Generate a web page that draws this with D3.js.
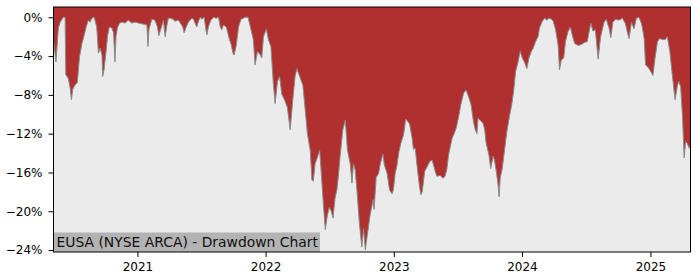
<!DOCTYPE html>
<html>
<head>
<meta charset="utf-8">
<script src="https://cdn.jsdelivr.net/npm/d3@7"></script>
<style>
body { margin: 0; background: #fff; }
svg { display: block; font-family: "DejaVu Sans", sans-serif; }
</style>
</head>
<body>
<div id="chart"></div>
<script>
// drawdown in percent
const dates = [
  "2020-05-07","2020-05-14","2020-05-21","2020-05-26","2020-06-04","2020-06-09","2020-06-11","2020-06-18","2020-06-23","2020-06-27",
  "2020-07-01","2020-07-07","2020-07-14","2020-07-20","2020-07-27","2020-08-02","2020-08-08","2020-08-14","2020-08-19","2020-08-24",
  "2020-08-31","2020-09-07","2020-09-12","2020-09-17","2020-09-22","2020-09-24","2020-09-28","2020-10-04","2020-10-08","2020-10-13",
  "2020-10-20","2020-10-25","2020-10-29","2020-11-01","2020-11-05","2020-11-11","2020-11-18","2020-11-27","2020-12-06","2020-12-16",
  "2020-12-25","2021-01-04","2021-01-17","2021-01-28","2021-01-31","2021-02-03","2021-02-11","2021-02-20","2021-02-27","2021-03-03",
  "2021-03-07","2021-03-12","2021-03-16","2021-03-21","2021-03-26","2021-03-30","2021-04-06","2021-04-12","2021-04-18","2021-04-28",
  "2021-05-10","2021-05-14","2021-05-20","2021-05-26","2021-06-05","2021-06-10","2021-06-14","2021-06-19","2021-06-24","2021-06-29",
  "2021-07-03","2021-07-10","2021-07-16","2021-07-18","2021-07-22","2021-07-29","2021-08-06","2021-08-13","2021-08-20","2021-08-25",
  "2021-08-29","2021-09-03","2021-09-11","2021-09-20","2021-09-25","2021-09-30","2021-10-03","2021-10-09","2021-10-16","2021-10-23",
  "2021-11-04","2021-11-12","2021-11-20","2021-11-27","2021-12-02","2021-12-09","2021-12-17","2021-12-21","2021-12-26","2022-01-03",
  "2022-01-09","2022-01-16","2022-01-23","2022-01-28","2022-02-04","2022-02-10","2022-02-16","2022-02-26","2022-03-04","2022-03-12",
  "2022-03-20","2022-03-26","2022-03-31","2022-04-10","2022-04-17","2022-04-24","2022-04-30","2022-05-08","2022-05-13","2022-05-17",
  "2022-05-22","2022-05-28","2022-06-04","2022-06-08","2022-06-13","2022-06-20","2022-06-25","2022-07-01","2022-07-07","2022-07-12",
  "2022-07-18","2022-07-23","2022-07-28","2022-08-01","2022-08-09","2022-08-16","2022-08-22","2022-08-30","2022-09-04","2022-09-08",
  "2022-09-13","2022-09-18","2022-09-25","2022-10-02","2022-10-07","2022-10-12","2022-10-17","2022-10-21","2022-10-26","2022-10-31",
  "2022-11-03","2022-11-06","2022-11-12","2022-11-19","2022-11-23","2022-12-01","2022-12-05","2022-12-13","2022-12-20","2022-12-27",
  "2022-12-31","2023-01-05","2023-01-10","2023-01-15","2023-01-21","2023-01-29","2023-02-04","2023-02-09","2023-02-15","2023-02-22",
  "2023-02-26","2023-03-03","2023-03-08","2023-03-15","2023-03-19","2023-03-23","2023-03-30","2023-04-06","2023-04-13","2023-04-20",
  "2023-04-24","2023-04-29","2023-05-04","2023-05-13","2023-05-21","2023-05-27","2023-06-01","2023-06-06","2023-06-16","2023-06-22",
  "2023-06-28","2023-07-04","2023-07-11","2023-07-19","2023-07-26","2023-08-02","2023-08-09","2023-08-16","2023-08-21","2023-08-26",
  "2023-08-29","2023-09-06","2023-09-12","2023-09-17","2023-09-21","2023-09-29","2023-10-04","2023-10-11","2023-10-15","2023-10-20",
  "2023-10-25","2023-10-28","2023-10-31","2023-11-06","2023-11-13","2023-11-19","2023-11-27","2023-12-03","2023-12-08","2023-12-14",
  "2023-12-21","2023-12-27","2024-01-02","2024-01-09","2024-01-15","2024-01-21","2024-01-28","2024-02-02","2024-02-09","2024-02-16",
  "2024-02-20","2024-02-28","2024-03-06","2024-03-12","2024-03-18","2024-03-25","2024-03-30","2024-04-06","2024-04-13","2024-04-17",
  "2024-04-22","2024-04-29","2024-05-04","2024-05-11","2024-05-18","2024-05-23","2024-05-30","2024-06-09","2024-06-18","2024-06-27",
  "2024-07-05","2024-07-15","2024-07-21","2024-07-28","2024-08-05","2024-08-12","2024-08-22","2024-08-28","2024-09-05","2024-09-10",
  "2024-09-16","2024-09-24","2024-10-03","2024-10-13","2024-10-21","2024-10-27","2024-11-01","2024-11-08","2024-11-15","2024-11-22",
  "2024-11-29","2024-12-07","2024-12-14","2024-12-18","2024-12-26","2025-01-02","2025-01-08","2025-01-14","2025-01-21","2025-01-27",
  "2025-02-04","2025-02-12","2025-02-18","2025-02-25","2025-03-04","2025-03-12","2025-03-19","2025-03-23","2025-03-28","2025-04-02",
  "2025-04-07","2025-04-11","2025-04-16","2025-04-21","2025-04-25"
];

const drawdown = [
  -2.3,-4.6,-1.1,-0.5,0,0,-5.9,-6.3,-7.2,-8.5,
  -7.4,-7.0,-6.7,-4.1,-2.7,-1.9,-1.0,-0.3,-0.5,-0.1,
  0,-1.0,-3.7,-3.2,-3.9,-6.1,-5.4,-3.4,-1.9,-1.0,
  -1.1,-1.6,-4.6,-2.0,-1.1,-0.6,-0.5,-0.6,-0.3,-0.6,
  -0.5,-0.6,-0.7,-0.8,-3.0,-1.2,-0.2,-0.3,-1.0,-1.9,
  -1.4,-0.8,-0.3,-2.0,-0.8,-0.1,-0.1,-0.2,-0.4,-0.3,
  -1.0,-1.6,-1.0,-0.5,-0.1,-0.2,-0.6,-1.0,-0.4,0,
  -0.2,0,-1.5,-1.8,-1.0,-0.3,0,-0.1,0,-1.0,
  -1.3,-0.8,-1.0,-2.3,-2.8,-3.7,-3.9,-3.0,-1.0,-0.2,
  0,0,-1.2,-2.3,-4.9,-3.5,-3.9,-4.2,-2.0,-1.2,
  -2.3,-3.0,-6.8,-8.9,-6.6,-6.1,-7.9,-8.7,-9.3,-11.6,
  -8.3,-6.1,-5.3,-6.3,-7.0,-9.6,-12.0,-13.7,-16.8,-16.9,
  -15.1,-14.5,-13.7,-15.8,-18.5,-21.9,-20.6,-19.6,-20.0,-20.7,
  -18.6,-17.8,-16.1,-14.4,-11.6,-10.6,-13.7,-15.1,-17.1,-15.1,
  -15.7,-17.8,-21.2,-23.7,-21.8,-24.0,-22.6,-21.6,-20.3,-19.4,
  -18.8,-19.8,-16.5,-16.1,-15.2,-14.1,-15.2,-16.1,-17.8,-18.2,
  -17.8,-16.1,-15.3,-14.0,-13.0,-12.1,-10.5,-10.7,-11.0,-12.4,
  -13.6,-13.5,-15.2,-17.4,-18.3,-18.0,-15.9,-15.4,-14.9,-14.7,
  -15.2,-15.9,-16.4,-16.3,-16.6,-16.4,-15.7,-14.2,-12.5,-12.0,
  -11.4,-10.4,-9.0,-7.8,-7.5,-8.2,-9.0,-10.8,-11.6,-12.0,
  -10.4,-10.7,-10.9,-11.6,-13.0,-14.2,-15.6,-14.3,-14.8,-15.9,
  -17.3,-18.5,-16.6,-15.6,-13.5,-11.8,-10.1,-9.0,-7.7,-5.6,
  -4.6,-3.5,-4.2,-4.7,-5.3,-4.2,-3.5,-3.2,-2.5,-2.0,
  -1.1,-0.4,-0.1,-0.3,-0.1,-0.2,-0.4,-1.3,-2.9,-5.4,
  -4.4,-4.2,-2.5,-1.5,-1.0,-1.8,-2.7,-2.9,-2.8,-2.6,
  -2.5,-0.6,-1.4,-1.3,-4.3,-2.0,-0.5,-0.2,-1.1,-2.1,
  -0.5,-0.2,-0.3,-0.1,-0.6,-1.5,-2.2,-0.5,-1.2,-0.1,
  0,-0.7,-2.2,-4.9,-5.2,-5.6,-6.0,-4.2,-2.5,-2.2,
  -2.3,-2.3,-2.0,-3.5,-5.9,-8.5,-7.0,-6.6,-7.2,-10.1,
  -14.5,-12.8,-13.0,-13.5,-13.2
];

const yTicks = [0, -4, -8, -12, -16, -20, -24];
const xTicks = ["2021-01-01", "2022-01-01", "2023-01-01", "2024-01-01", "2025-01-01"];
const title = "EUSA (NYSE ARCA) - Drawdown Chart";

var margin = {top: 7, right: 9.5, bottom: 28, left: 53.5},
    width = 700 - margin.left - margin.right,
    height = 280 - margin.top - margin.bottom;

var parseTime = d3.timeParse("%Y-%m-%d");

var data = dates.map(function(d, i) {
    return {date: parseTime(d), value: drawdown[i]};
});

var x = d3.scaleTime()
    .domain(d3.extent(data, function(d) { return d.date; }))
    .range([0, width]);

var y = d3.scaleLinear()
    .domain([-24.2, 1.06])
    .range([height, 0]);

var svg = d3.select("#chart").append("svg")
    .attr("width", 700)
    .attr("height", 280)
    .append("g")
    .attr("transform", "translate(" + margin.left + "," + margin.top + ")");

svg.append("clipPath")
    .attr("id", "clip")
    .append("rect")
    .attr("width", width)
    .attr("height", height);

svg.append("rect")
    .attr("width", width)
    .attr("height", height)
    .attr("fill", "#ebebeb");

var area = d3.area()
    .x(function(d) { return x(d.date); })
    .y0(0)
    .y1(function(d) { return y(d.value); });

var line = d3.line()
    .x(function(d) { return x(d.date); })
    .y(function(d) { return y(d.value); });

svg.append("path")
    .datum(data)
    .attr("clip-path", "url(#clip)")
    .attr("fill", "#b03030")
    .attr("d", area);

svg.append("path")
    .datum(data)
    .attr("clip-path", "url(#clip)")
    .attr("fill", "none")
    .attr("stroke", "#8a8a8a")
    .attr("stroke-width", 1)
    .attr("d", line);

// label box in the lower left corner
var label = svg.append("g");
label.append("rect")
    .attr("x", 0)
    .attr("y", height - 19.5)
    .attr("width", 266.5)
    .attr("height", 19.5)
    .attr("fill", "#b3b3b3");
label.append("text")
    .attr("x", 3)
    .attr("y", height - 5)
    .attr("font-size", "13.9px")
    .attr("fill", "#111")
    .text(title);

var yAxis = svg.append("g")
    .call(d3.axisLeft(y)
        .tickValues(yTicks)
        .tickSize(5)
        .tickSizeOuter(0)
        .tickPadding(6)
        .tickFormat(function(d) { return (d < 0 ? "\u2212" + (-d) : d) + "%"; }));

var xAxis = svg.append("g")
    .attr("transform", "translate(0," + height + ")")
    .call(d3.axisBottom(x)
        .tickValues(xTicks.map(parseTime))
        .tickSize(5)
        .tickSizeOuter(0)
        .tickPadding(5)
        .tickFormat(d3.timeFormat("%Y")));

[yAxis, xAxis].forEach(function(a) {
    a.select(".domain").remove();
    a.selectAll("text")
        .attr("font-family", "DejaVu Sans")
        .attr("font-size", "12px")
        .attr("fill", "#000");
    a.selectAll("line").attr("stroke", "#000");
});

svg.append("rect")
    .attr("width", width)
    .attr("height", height)
    .attr("fill", "none")
    .attr("stroke", "#000")
    .attr("stroke-width", 1);
</script>
</body>
</html>
